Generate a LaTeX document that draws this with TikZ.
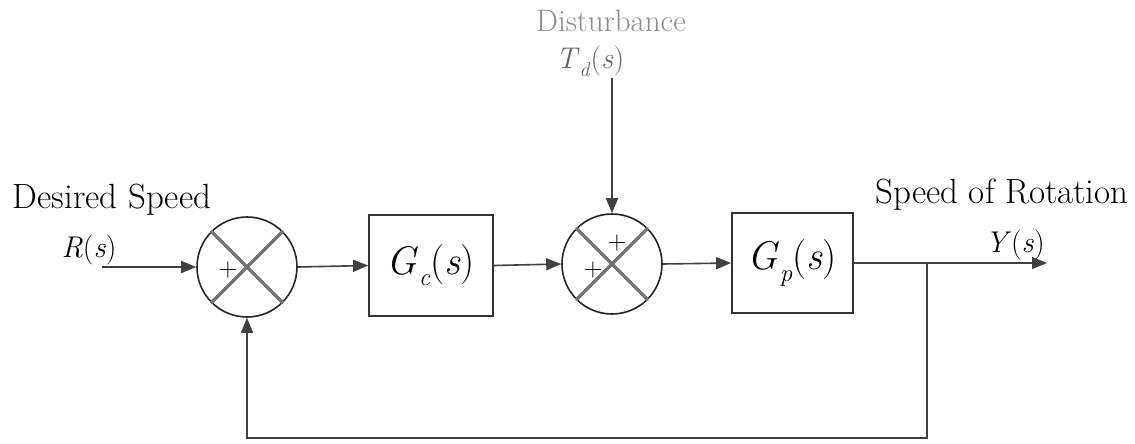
\documentclass[tikz,border=0pt]{standalone}
\usepackage{fontspec}
\usetikzlibrary{arrows.meta}
\newcommand{\iv}[1]{\textit{#1}}
\newcommand{\sbs}[1]{\raisebox{-0.28em}{\fontsize{25}{27}\selectfont\textit{#1}}}
\newcommand{\sbt}[1]{\raisebox{-0.25em}{\fontsize{20}{22}\selectfont\textit{#1}}}
\begin{document}
\begin{tikzpicture}[x=1pt,y=-1pt,
  wire/.style={draw=black!75,line width=1.6pt},
  arr/.style={wire,-{Triangle[length=15pt,width=12pt]}},
  sumj/.style={circle,draw=black!85,line width=1.6pt,minimum size=100pt,inner sep=0pt},
  blk/.style={draw=black!80,line width=1.8pt,inner sep=0pt},
  lbl/.style={inner sep=0pt,anchor=base,font=\fontsize{35}{40}\selectfont},
  mlbl/.style={inner sep=0pt,anchor=base,font=\fontsize{30}{34}\selectfont},
  bigm/.style={inner sep=0pt,font=\fontsize{40}{46}\selectfont},
  xline/.style={draw=black!55,line width=3.2pt},
  pl/.style={inner sep=0pt,font=\fontsize{26}{30}\selectfont}]
\useasboundingbox (0,0) rectangle (1135,444);
% summing junctions
\node[sumj] (s1) at (247,267) {};
\node[sumj] (s2) at (612,264) {};
\foreach \s in {s1,s2}{
  \draw[xline] (\s.north west) -- (\s.south east);
  \draw[xline] (\s.north east) -- (\s.south west);
}
\node[pl] (p1) at (228,270) {+};
\node[pl] (p2) at (617,243) {+};
\node[pl] (p3) at (593,270) {+};
% blocks
\node[blk,minimum width=124pt,minimum height=101pt] (gc) at (431,265.5) {};
\node[bigm] (gct) at (gc.center) {\iv{G}\sbs{c}(\iv{s})};
\node[blk,minimum width=121pt,minimum height=100pt] (gp) at (792.5,263) {};
\node[bigm] (gpt) at (gp.center) {\iv{G}\sbs{p}(\iv{s})};
% labels
\node[lbl] (ds) at (112,208) {Desired Speed};
\node[mlbl] (rs) at (89,257) {\iv{R}(\iv{s})};
\node[lbl] (sr) at (1002,203) {Speed of Rotation};
\node[mlbl] (ys) at (1015,252) {\iv{Y}(\iv{s})};
\node[lbl,text=black!45,font=\fontsize{31}{36}\selectfont] (dist) at (611,32) {Disturbance};
\node[mlbl,text=black!60] (td) at (590,69) {\iv{T}\sbt{d}(\iv{s})};
% coordinates
\coordinate (in) at (102,267);
\coordinate (dtop) at (612,78);
\coordinate (br) at (927,263);
\coordinate (out) at (1047,263);
\coordinate (fb) at (927,438);
% connectors
\draw[arr] (in) -- (s1.west);
\draw[arr] (s1.east) -- (gc.west);
\draw[arr] (gc.east) -- (s2.west);
\draw[arr] (s2.east) -- (gp.west);
\draw[arr] (dtop) -- (s2.north);
\draw[arr] (gp.east) -- (out);
\draw[arr] (br) -- (fb) -| (s1.south);
\end{tikzpicture}
\end{document}
